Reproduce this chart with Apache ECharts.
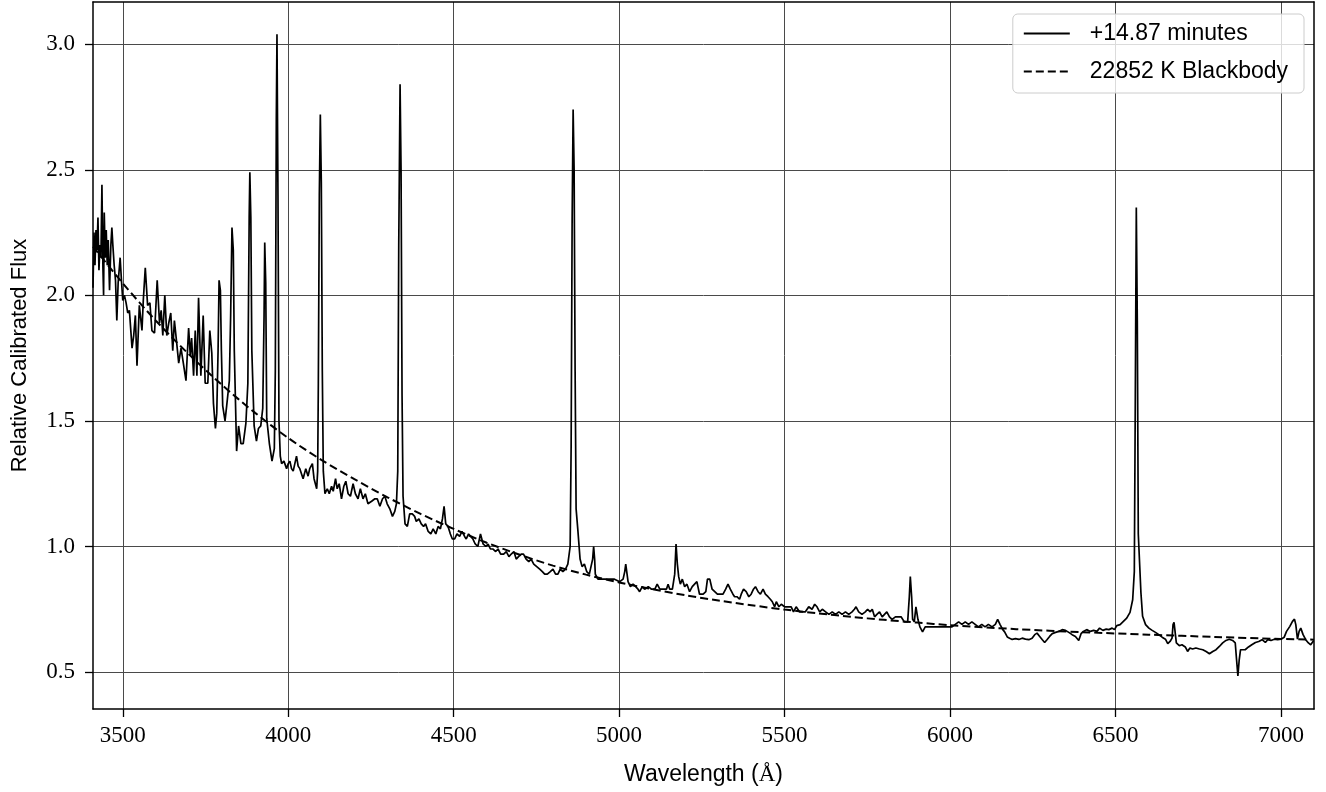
<!DOCTYPE html>
<html>
<head>
<meta charset="utf-8">
<title>Spectrum with blackbody fit</title>
<script src="https://cdn.jsdelivr.net/npm/echarts@6/dist/echarts.min.js"></script>
<style>
  html, body { margin: 0; padding: 0; background: #ffffff; }
  #chart { width: 1326px; height: 792px; }
</style>
</head>
<body>
<div id="chart"></div>
<script>
// Observed spectrum: wavelength (Angstrom) and relative calibrated flux
const wavelength = [
  3410,3413,3416,3419,3422,3425,3428,3431,3434,3437,3440,3442,3444,3447,3450,3453,3456,3460,3464,3467,
  3470,3474,3478,3482,3486,3492,3496,3500,3505,3510,3515,3520,3528,3533,3538,3543,3550,3558,3562,3568,
  3575,3582,3588,3596,3604,3611,3616,3621,3627,3633,3639,3645,3651,3656,3663,3669,3676,3683,3691,3699,
  3704,3708,3714,3719,3724,3729,3736,3743,3749,3757,3763,3769,3774,3780,3784,3788,3791,3795,3798,3802,
  3809,3814,3822,3826,3830,3834,3837,3844,3850,3857,3864,3872,3878,3882,3884,3887,3890,3897,3904,3910,
  3917,3923,3927,3929,3932,3935,3943,3951,3958,3961,3964,3966,3969,3972,3976,3980,3987,3995,4000,4005,
  4010,4015,4020,4025,4030,4035,4045,4053,4060,4065,4073,4078,4086,4089,4091,4094,4097,4100,4103,4106,
  4111,4118,4124,4131,4136,4143,4148,4154,4161,4168,4174,4181,4188,4196,4203,4211,4218,4226,4233,4241,
  4252,4262,4269,4277,4285,4292,4299,4307,4315,4322,4327,4331,4334,4338,4341,4344,4347,4353,4360,4367,
  4375,4382,4387,4395,4402,4409,4415,4423,4431,4438,4446,4453,4460,4466,4471,4476,4483,4490,4496,4503,
  4510,4518,4525,4533,4538,4545,4551,4558,4565,4573,4581,4589,4597,4604,4611,4619,4627,4634,4642,4651,
  4659,4667,4674,4682,4689,4696,4704,4711,4719,4727,4734,4742,4751,4760,4768,4775,4783,4792,4800,4808,
  4815,4822,4830,4838,4845,4852,4855,4858,4861,4864,4867,4870,4875,4882,4888,4895,4902,4910,4916,4920,
  4923,4926,4928,4936,4946,4956,4971,4986,5002,5012,5017,5020,5024,5027,5034,5042,5050,5057,5062,5070,
  5077,5088,5098,5108,5115,5123,5133,5143,5148,5153,5161,5168,5172,5176,5180,5185,5191,5198,5205,5213,
  5221,5228,5235,5243,5254,5262,5267,5274,5281,5289,5297,5306,5314,5322,5329,5336,5344,5349,5356,5364,
  5369,5376,5384,5392,5399,5406,5412,5420,5427,5435,5442,5450,5457,5463,5470,5475,5483,5490,5500,5510,
  5520,5527,5535,5545,5555,5563,5573,5583,5591,5598,5606,5614,5624,5634,5644,5654,5664,5674,5684,5694,
  5704,5711,5716,5724,5734,5744,5751,5759,5765,5772,5779,5787,5795,5802,5809,5817,5825,5835,5845,5852,
  5862,5872,5877,5880,5884,5887,5892,5897,5903,5909,5917,5925,5936,5946,5956,5966,5976,5986,5996,6006,
  6016,6026,6036,6046,6056,6066,6076,6086,6096,6106,6116,6127,6137,6144,6151,6159,6165,6173,6180,6188,
  6198,6208,6218,6228,6238,6248,6256,6263,6271,6279,6286,6293,6301,6309,6319,6329,6339,6349,6359,6369,
  6379,6389,6396,6403,6413,6424,6434,6444,6452,6462,6472,6480,6490,6497,6504,6514,6524,6534,6544,6552,
  6557,6560,6563,6566,6569,6577,6582,6591,6601,6611,6621,6631,6641,6651,6658,6665,6671,6674,6677,6681,
  6684,6693,6701,6711,6718,6725,6733,6743,6754,6764,6774,6784,6794,6804,6814,6824,6834,6844,6854,6862,
  6866,6870,6874,6878,6884,6892,6902,6912,6923,6933,6943,6953,6960,6970,6980,6990,7000,7010,7017,7027,
  7035,7041,7045,7050,7055,7060,7067,7075,7083,7090,7097,7100
];
const flux = [
  2.03,2.25,2.12,2.26,2.18,2.31,2.10,2.20,2.15,2.44,2.11,2.00,2.33,2.15,2.26,2.12,2.22,2.02,2.20,2.27,
  2.20,2.12,2.06,1.90,2.05,2.15,2.06,1.98,2.00,1.97,1.93,1.94,1.79,1.84,1.92,1.72,1.96,1.86,1.98,2.11,
  1.96,1.97,1.86,1.85,2.06,1.89,1.94,1.84,2.00,1.84,1.89,1.93,1.78,1.90,1.81,1.73,1.79,1.73,1.66,1.87,
  1.76,1.83,1.68,1.86,1.68,1.99,1.68,1.92,1.65,1.65,1.86,1.77,1.57,1.47,1.53,1.78,2.06,2.02,1.78,1.56,
  1.50,1.56,1.66,1.92,2.27,2.18,1.78,1.38,1.48,1.41,1.41,1.49,1.65,2.31,2.49,2.31,1.78,1.48,1.42,1.47,
  1.48,1.55,1.92,2.21,2.05,1.51,1.41,1.34,1.39,1.70,2.70,3.04,2.40,1.50,1.36,1.33,1.34,1.31,1.33,1.34,
  1.31,1.30,1.33,1.36,1.32,1.31,1.27,1.31,1.28,1.31,1.33,1.27,1.23,1.30,1.65,2.40,2.72,2.45,1.70,1.30,
  1.21,1.23,1.21,1.24,1.22,1.27,1.23,1.25,1.19,1.24,1.26,1.21,1.20,1.25,1.21,1.19,1.23,1.19,1.21,1.17,
  1.18,1.19,1.19,1.16,1.19,1.20,1.17,1.15,1.12,1.14,1.17,1.30,2.20,2.84,2.50,1.60,1.20,1.09,1.08,1.13,
  1.13,1.12,1.10,1.11,1.09,1.08,1.09,1.06,1.05,1.07,1.05,1.08,1.07,1.11,1.16,1.09,1.08,1.05,1.03,1.03,
  1.05,1.04,1.06,1.04,1.03,1.05,1.05,1.03,1.01,1.00,1.05,1.01,1.00,1.01,0.99,0.99,0.98,0.99,0.97,0.97,
  0.98,0.96,0.97,0.98,0.95,0.96,0.97,0.97,0.95,0.94,0.95,0.93,0.92,0.91,0.90,0.89,0.89,0.90,0.91,0.89,
  0.89,0.91,0.90,0.91,0.93,1.00,1.40,2.30,2.74,2.50,1.70,1.15,1.07,0.95,0.92,0.93,0.90,0.89,0.89,0.95,
  1.00,0.95,0.89,0.87,0.87,0.87,0.87,0.87,0.86,0.87,0.90,0.93,0.89,0.86,0.84,0.85,0.84,0.83,0.82,0.84,
  0.83,0.84,0.83,0.83,0.85,0.83,0.83,0.83,0.85,0.83,0.83,0.89,1.01,0.93,0.88,0.85,0.87,0.84,0.85,0.82,
  0.84,0.85,0.86,0.81,0.81,0.82,0.87,0.87,0.83,0.82,0.81,0.81,0.81,0.83,0.85,0.83,0.81,0.80,0.80,0.79,
  0.81,0.83,0.82,0.80,0.81,0.83,0.84,0.82,0.81,0.83,0.81,0.80,0.79,0.78,0.76,0.78,0.76,0.77,0.76,0.76,
  0.76,0.74,0.76,0.74,0.74,0.74,0.76,0.75,0.77,0.76,0.74,0.75,0.74,0.73,0.74,0.73,0.74,0.73,0.74,0.73,
  0.74,0.75,0.76,0.74,0.73,0.74,0.75,0.74,0.75,0.72,0.73,0.74,0.72,0.73,0.74,0.72,0.71,0.72,0.72,0.72,
  0.70,0.70,0.80,0.88,0.80,0.71,0.70,0.76,0.71,0.68,0.66,0.68,0.68,0.68,0.68,0.68,0.68,0.68,0.68,0.68,
  0.69,0.70,0.69,0.70,0.69,0.70,0.69,0.68,0.69,0.68,0.69,0.68,0.69,0.71,0.69,0.67,0.66,0.64,0.635,0.63,
  0.633,0.63,0.635,0.631,0.629,0.635,0.649,0.655,0.642,0.629,0.618,0.629,0.642,0.653,0.658,0.662,0.669,0.666,0.658,0.649,
  0.642,0.626,0.653,0.662,0.669,0.662,0.666,0.662,0.675,0.666,0.671,0.669,0.675,0.669,0.685,0.689,0.702,0.715,0.738,0.788,
  0.90,1.60,2.35,1.90,1.05,0.815,0.722,0.689,0.675,0.666,0.658,0.649,0.639,0.631,0.613,0.622,0.635,0.689,0.698,0.693,
  0.616,0.605,0.609,0.600,0.582,0.596,0.592,0.596,0.592,0.589,0.582,0.573,0.582,0.589,0.602,0.616,0.626,0.631,0.626,0.616,
  0.549,0.485,0.549,0.589,0.582,0.589,0.600,0.609,0.618,0.622,0.629,0.618,0.629,0.626,0.631,0.629,0.631,0.639,0.662,0.682,
  0.702,0.711,0.689,0.631,0.662,0.675,0.649,0.629,0.616,0.609,0.622,0.622
];

// Blackbody model curve sampled along the same wavelength range
const bbWavelength = [3410,3500,3600,3700,3800,3900,4000,4100,4200,4300,4400,4500,4600,4700,4800,4900,5000,5100,5200,5300,5400,5500,5600,5700,5800,5900,6000,6200,6400,6600,6800,7000,7100];
const bbFlux       = [2.194,2.048,1.899,1.765,1.643,1.532,1.432,1.345,1.268,1.196,1.130,1.070,1.015,0.967,0.924,0.888,0.857,0.830,0.806,0.785,0.766,0.749,0.734,0.720,0.708,0.697,0.687,0.671,0.659,0.649,0.640,0.632,0.629];

const xTicks = [3500, 4000, 4500, 5000, 5500, 6000, 6500, 7000];
const yTicks = [0.5, 1.0, 1.5, 2.0, 2.5, 3.0];
const xRange = [3410, 7100];
const yRange = [0.353, 3.168];
const seriesNames = ['+14.87 minutes', '22852 K Blackbody'];
const xTitle = 'Wavelength ({aa|Å})';
const yTitle = 'Relative Calibrated Flux';

const serif = "'Liberation Serif', 'DejaVu Serif', serif";
const sans = "'Liberation Sans', Arial, 'DejaVu Sans', sans-serif";

const chart = echarts.init(document.getElementById('chart'), null, { renderer: 'canvas' });

// Axis copies that only draw the top and right borders of the plot frame
const frameOnly = {
  type: 'value',
  axisLine: { show: true, onZero: false, lineStyle: { color: '#000', width: 1.5 } },
  axisTick: { show: false },
  axisLabel: { show: false },
  splitLine: { show: false }
};

const option = {
  animation: false,
  backgroundColor: '#ffffff',
  grid: { left: 93, right: 12, top: 2, bottom: 83, containLabel: false },
  legend: {
    orient: 'vertical',
    right: 22,
    top: 14,
    backgroundColor: 'rgba(255,255,255,0.8)',
    borderColor: '#cccccc',
    borderWidth: 1,
    borderRadius: 5,
    padding: [8, 16, 10, 10],
    itemWidth: 46,
    itemHeight: 14,
    itemGap: 15,
    // line-only keys: hide the marker dot drawn in the middle of the key
    itemStyle: { color: 'rgba(0,0,0,0)', borderColor: 'rgba(0,0,0,0)', borderWidth: 0, opacity: 0 },
    textStyle: { fontFamily: sans, fontSize: 23, color: '#000', padding: [0, 0, 0, 15] },
    data: seriesNames.map(n => ({ name: n }))
  },
  xAxis: [
    {
      type: 'value',
      min: xRange[0],
      max: xRange[1],
      splitNumber: 7,
      name: xTitle,
      nameLocation: 'middle',
      nameGap: 54,
      nameTextStyle: {
        fontFamily: sans, fontSize: 23, color: '#000',
        rich: { aa: { fontFamily: serif, fontSize: 23, color: '#000' } }
      },
      axisLine: { show: true, onZero: false, lineStyle: { color: '#000', width: 1.5 } },
      axisTick: { show: true, inside: false, length: 8, lineStyle: { color: '#000', width: 1.3 }, customValues: xTicks },
      axisLabel: {
        customValues: xTicks, fontFamily: serif, fontSize: 23, color: '#000', margin: 15,
        formatter: v => String(v)
      },
      splitLine: { show: true, lineStyle: { color: '#4a4a4a', width: 1 } }
    },
    Object.assign({ position: 'top', min: xRange[0], max: xRange[1] }, frameOnly)
  ],
  yAxis: [
    {
      type: 'value',
      min: yRange[0],
      max: yRange[1],
      splitNumber: 5,
      name: yTitle,
      nameLocation: 'middle',
      nameGap: 62,
      nameTextStyle: { fontFamily: sans, fontSize: 22, color: '#000' },
      axisLine: { show: true, onZero: false, lineStyle: { color: '#000', width: 1.5 } },
      axisTick: { show: true, inside: false, length: 8, lineStyle: { color: '#000', width: 1.3 }, customValues: yTicks },
      axisLabel: {
        customValues: yTicks, fontFamily: serif, fontSize: 23, color: '#000', margin: 18,
        formatter: v => Number(v).toFixed(1)
      },
      splitLine: { show: true, lineStyle: { color: '#4a4a4a', width: 1 } }
    },
    Object.assign({ position: 'right', min: yRange[0], max: yRange[1] }, frameOnly)
  ],
  series: [
    {
      name: seriesNames[0],
      type: 'line',
      data: wavelength.map((w, i) => [w, flux[i]]),
      symbol: 'none',
      showSymbol: false,
      lineStyle: { color: '#000', width: 1.7 },
      itemStyle: { color: '#000' },
      z: 3,
      silent: true
    },
    {
      name: seriesNames[1],
      type: 'line',
      data: bbWavelength.map((w, i) => [w, bbFlux[i]]),
      smooth: 0.3,
      symbol: 'none',
      showSymbol: false,
      lineStyle: { color: '#000', width: 2, type: [8, 4] },
      itemStyle: { color: '#000' },
      z: 2,
      silent: true
    }
  ]
};

chart.setOption(option);
</script>
</body>
</html>
